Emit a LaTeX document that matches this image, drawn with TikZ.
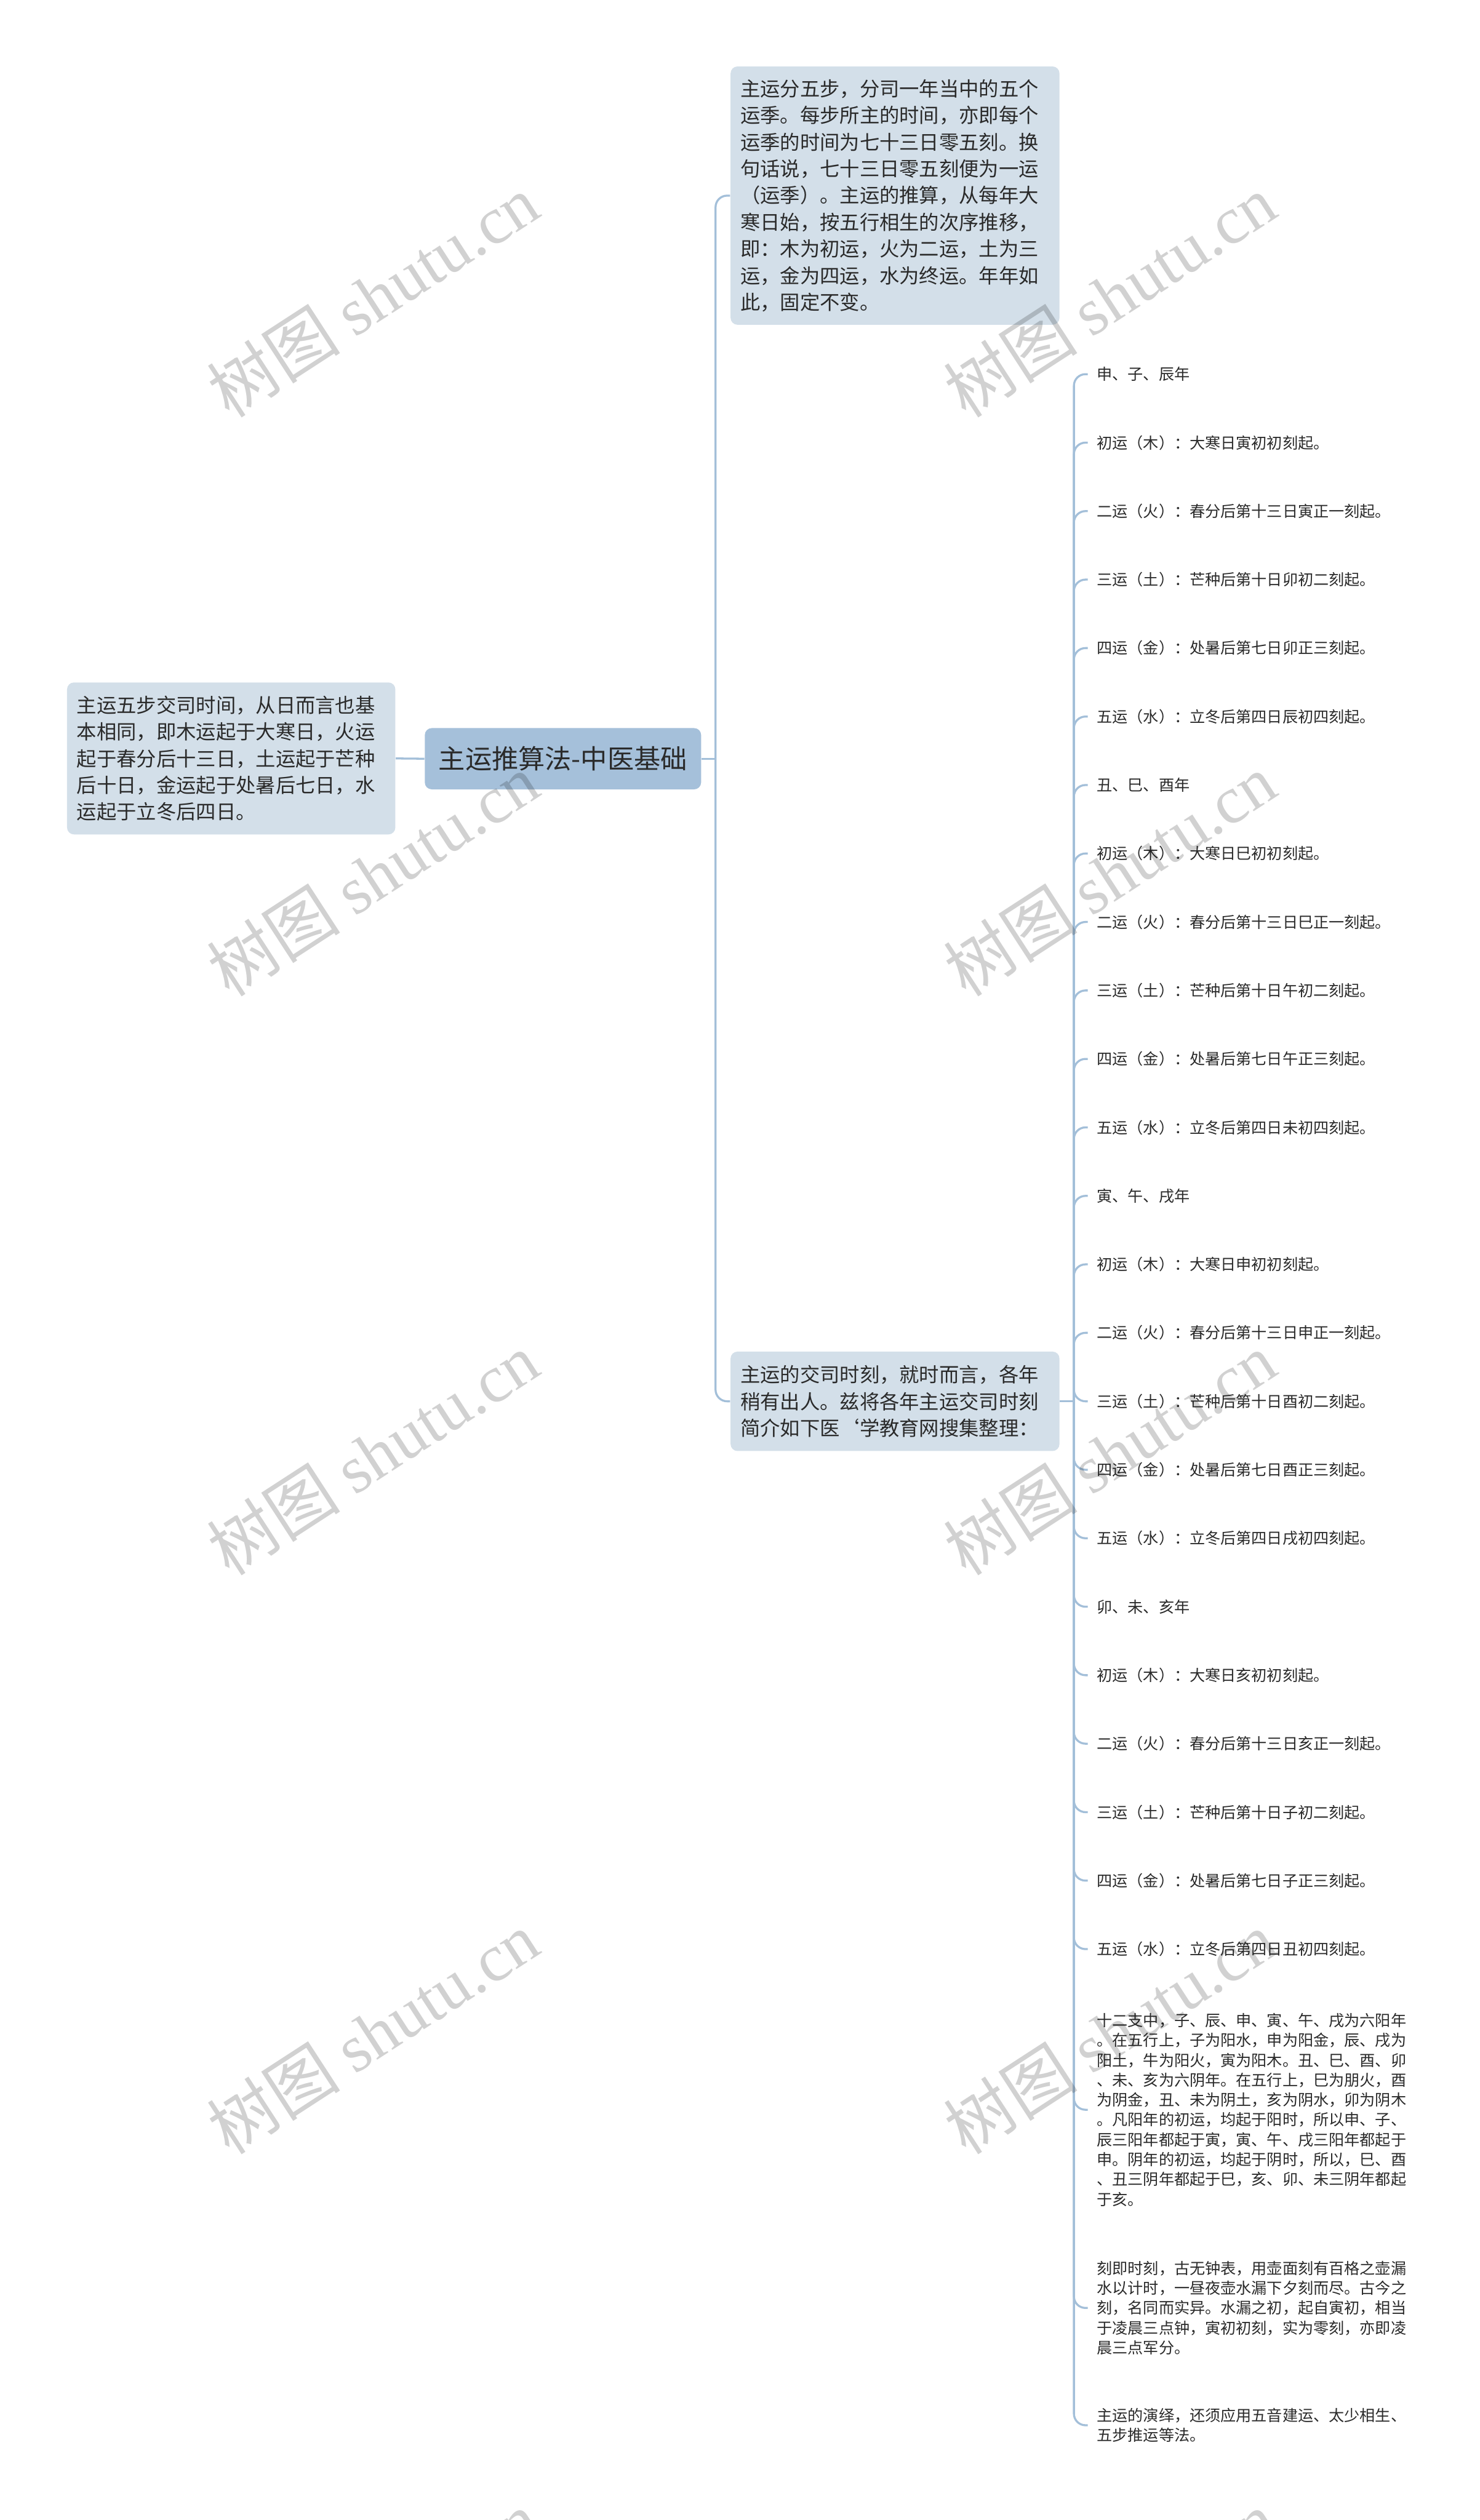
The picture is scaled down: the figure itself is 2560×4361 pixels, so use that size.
\documentclass[tikz,border=0pt]{standalone}
\usepackage{fontspec}
\setmainfont{Noto Sans CJK SC}
\newfontfamily\wmlatin{Liberation Serif}
\setlength{\parindent}{0pt}
\definecolor{rootfill}{HTML}{A5C0DA}
\definecolor{boxfill}{HTML}{D3DFE9}
\definecolor{linecol}{HTML}{A3BFD9}
\definecolor{txt}{HTML}{2A2A2A}
\begin{document}
\begin{tikzpicture}[x=0.25pt,y=-0.25pt,
  conn/.style={draw=linecol, line width=0.875pt},
  rootbox/.style={fill=rootfill, rounded corners=3pt, text=txt, minimum width=119.5pt, minimum height=26.5pt, inner sep=0pt, font=\fontsize{11.5pt}{13pt}\selectfont},
  subbox/.style={fill=boxfill, rounded corners=3pt, text=txt, align=left, inner xsep=4.25pt, inner ysep=0pt, font=\fontsize{8.6pt}{11.55pt}\selectfont},
  leaf/.style={text=txt, inner xsep=3.75pt, inner ysep=0pt, anchor=west, align=left, font=\fontsize{6.69pt}{8.6pt}\selectfont},
  wm/.style={rotate=33, text=black, opacity=0.18, inner sep=0pt, font=\fontsize{29pt}{29pt}\selectfont}]
\fill[white] (0,0) rectangle (2560,4361);
\useasboundingbox (0,0) rectangle (2560,4361);

% root and first-level nodes
\node[rootbox] (root) at (974,1313) {主运推算法-中医基础};
\node[subbox, text width=133.5pt, minimum height=65.75pt] (left) at (400,1312.5) {主运五步交司时间，从日而言也基\\本相同，即木运起于大寒日，火运\\起于春分后十三日，土运起于芒种\\后十日，金运起于处暑后七日，水\\运起于立冬后四日。};
\node[subbox, text width=133.75pt, minimum height=111.75pt] (up) at (1548.5,338.5) {主运分五步，分司一年当中的五个\\运季。每步所主的时间，亦即每个\\运季的时间为七十三日零五刻。换\\句话说，七十三日零五刻便为一运\\（运季）。主运的推算，从每年大\\寒日始，按五行相生的次序推移，\\即：木为初运，火为二运，土为三\\运，金为四运，水为终运。年年如\\此，固定不变。};
\node[subbox, text width=133.75pt, minimum height=43pt] (low) at (1548.5,2425) {主运的交司时刻，就时而言，各年\\稍有出人。兹将各年主运交司时刻\\简介如下医\char"60 学教育网搜集整理：};

\coordinate (sp1) at (1238,1313);
\coordinate (sp2) at (1858,2425);

\draw[conn] (root.west) -- (left.east);
\draw[conn] (root.east) -- (sp1);
\draw[conn, rounded corners=5pt] (sp1) |- (up.west);
\draw[conn, rounded corners=5pt] (sp1) |- (low.west);
\draw[conn] (low.east) -- (sp2);

% leaves
\foreach \t [count=\i from 0] in {申、子、辰年,
  初运（木）：大寒日寅初初刻起。,
  二运（火）：春分后第十三日寅正一刻起。,
  三运（土）：芒种后第十日卯初二刻起。,
  四运（金）：处暑后第七日卯正三刻起。,
  五运（水）：立冬后第四日辰初四刻起。,
  丑、巳、酉年,
  初运（木）：大寒日巳初初刻起。,
  二运（火）：春分后第十三日巳正一刻起。,
  三运（土）：芒种后第十日午初二刻起。,
  四运（金）：处暑后第七日午正三刻起。,
  五运（水）：立冬后第四日未初四刻起。,
  寅、午、戌年,
  初运（木）：大寒日申初初刻起。,
  二运（火）：春分后第十三日申正一刻起。,
  三运（土）：芒种后第十日酉初二刻起。,
  四运（金）：处暑后第七日酉正三刻起。,
  五运（水）：立冬后第四日戌初四刻起。,
  卯、未、亥年,
  初运（木）：大寒日亥初初刻起。,
  二运（火）：春分后第十三日亥正一刻起。,
  三运（土）：芒种后第十日子初二刻起。,
  四运（金）：处暑后第七日子正三刻起。,
  五运（水）：立冬后第四日丑初四刻起。} {
  \node[leaf] (leaf\i) at (1882,{2425+(\i-15)*118.5}) {\t};
  \draw[conn, rounded corners=5pt] (sp2) |- (leaf\i.west);
}

\node[leaf] (p1) at (1882,3651) {十二支中，子、辰、申、寅、午、戌为六阳年\\。在五行上，子为阳水，申为阳金，辰、戌为\\阳土，牛为阳火，寅为阳木。丑、巳、酉、卯\\、未、亥为六阴年。在五行上，巳为朋火，酉\\为阴金，丑、未为阴土，亥为阴水，卯为阴木\\。凡阳年的初运，均起于阳时，所以申、子、\\辰三阳年都起于寅，寅、午、戌三阳年都起于\\申。阴年的初运，均起于阴时，所以，巳、酉\\、丑三阴年都起于巳，亥、卯、未三阴年都起\\于亥。};
\node[leaf] (p2) at (1882,3994) {刻即时刻，古无钟表，用壶面刻有百格之壶漏\\水以计时，一昼夜壶水漏下夕刻而尽。古今之\\刻，名同而实异。水漏之初，起自寅初，相当\\于凌晨三点钟，寅初初刻，实为零刻，亦即凌\\晨三点军分。};
\node[leaf] (p3) at (1882,4197) {主运的演绎，还须应用五音建运、太少相生、\\五步推运等法。};
\draw[conn, rounded corners=5pt] (sp2) |- (p1.west);
\draw[conn, rounded corners=5pt] (sp2) |- (p2.west);
\draw[conn, rounded corners=5pt] (sp2) |- (p3.west);

% watermarks
\foreach \wx/\wn in {645/a,1920/b} {
  \foreach \wy/\wk in {512/1,1514/2,2516/3,3518/4,4520/5} {
    \node[wm] (wm\wn\wk) at (\wx,\wy) {树图 {\wmlatin shutu.cn}};
  }
}
\end{tikzpicture}
\end{document}
